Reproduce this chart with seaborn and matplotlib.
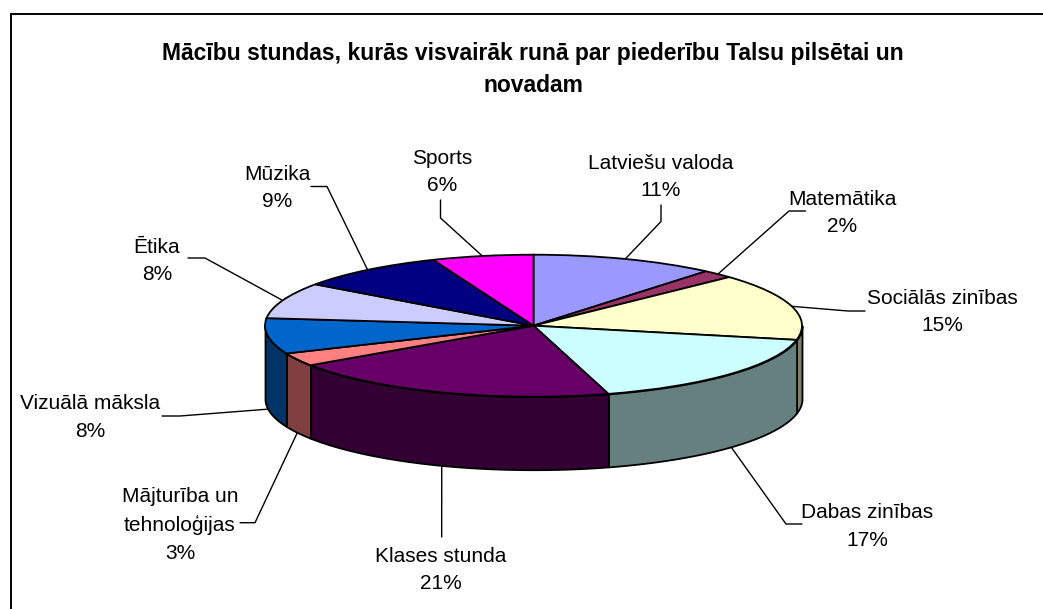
import numpy as np
import matplotlib
matplotlib.use("Agg")
import matplotlib.pyplot as plt
import seaborn as sns

# subjects, clockwise from 12 o'clock
subjects = ["Latviešu valoda", "Matemātika", "Sociālās zinības", "Dabas zinības", "Klases stunda",
            "Mājturība un\ntehnoloģijas", "Vizuālā māksla", "Ētika", "Mūzika", "Sports"]
percent_labels = ["11%", "2%", "15%", "17%", "21%", "3%", "8%", "8%", "9%", "6%"]
shares = [11.1, 1.9, 15.2, 17.3, 20.1, 3.0, 8.1, 8.2, 9.0, 6.1]

top_colors = ["#9999FF", "#993366", "#FFFFCC", "#CCFFFF", "#660066",
              "#FF8080", "#0066CC", "#CCCCFF", "#000080", "#FF00FF"]
side_colors = ["#4D4D80", "#4D1A33", "#808066", "#668080", "#330033",
               "#804040", "#003366", "#666680", "#000040", "#800080"]

title = "Mācību stundas, kurās visvairāk runā par piederību Talsu pilsētai un\nnovadam"

# layout in pixels of the 1043x609 figure
CX, CY, RX, RY, DEPTH = 533.5, 325.7, 268.5, 71.0, 73.0
label_xy = [(661, 177), (842, 213), (942, 312), (867, 526.5), (441, 570),
            (180, 525), (90, 417.5), (157, 261), (277, 188), (442, 172)]
leader_ends = [[(661, 205), (661, 221.5)], [(805.5, 211), (789, 211)], [(865, 311), (848, 311)],
               [(802, 524), (786, 524)], [(441.7, 537), (441.7, 510)], [(240, 522.7), (255, 522.7)],
               [(162, 416), (180, 416)], [(188, 258), (205, 258)], [(311, 186.5), (327, 186.5)],
               [(440.5, 200), (440.5, 218)]]

sns.set_theme(style="white")
plt.rcParams["font.family"] = ["Liberation Sans", "DejaVu Sans"]

W, H = 1043, 609
fig = plt.figure(figsize=(W / 100, H / 100), dpi=100, facecolor="white")

# overlay in pixel coordinates for frame, text and leader lines
over = fig.add_axes([0, 0, 1, 1])
over.set_xlim(0, W)
over.set_ylim(H, 0)
over.axis("off")
over.plot([11, 11, W], [H, 14, 14], color="black", lw=1.4, solid_joinstyle="miter")
over.text(533, 69.5, title, ha="center", va="center", fontsize=16.45, fontweight="bold",
          color="black", linespacing=1.48)

# pie axes, stretched so the circle becomes the flat ellipse
ax = fig.add_axes([(CX - RX) / W, 1 - (CY + RY) / H, 2 * RX / W, 2 * RY / H])
ax.pie(shares, colors=sns.color_palette(top_colors), startangle=90, counterclock=False,
       wedgeprops=dict(edgecolor="black", linewidth=1.3, clip_on=False, zorder=3))
ax.set_aspect("auto")
ax.set_xlim(-1, 1)
ax.set_ylim(-1, 1)
ax.patch.set_alpha(0)

# side wall: only the part of each slice on the front half of the rim
edges = np.cumsum([0] + shares) / sum(shares) * 360
d = DEPTH / RY
for i in range(len(shares)):
    a0, a1 = max(edges[i], 90), min(edges[i + 1], 270)
    if a1 <= a0:
        continue
    t = np.radians(np.linspace(a0, a1, 60))
    ax.fill_between(np.sin(t), np.cos(t), np.cos(t) - d, color=side_colors[i], edgecolor="black",
                    linewidth=1.3, clip_on=False, zorder=2)

# labels and leaders, anchored at each slice's mid angle
mids = np.radians((edges[:-1] + edges[1:]) / 2)
for i, name in enumerate(subjects):
    px = CX + RX * np.sin(mids[i])
    py = CY - RY * np.cos(mids[i])
    if np.cos(mids[i]) < 0 and abs(np.sin(mids[i])) < 0.995:
        py += DEPTH
    pts = leader_ends[i] + [(px, py)]
    over.plot([p[0] for p in pts], [p[1] for p in pts], color="black", lw=1.0)
    over.text(label_xy[i][0], label_xy[i][1], name + "\n" + percent_labels[i], ha="center",
              va="center", fontsize=15, color="black", linespacing=1.55)

fig.savefig("out.png", dpi=100)
